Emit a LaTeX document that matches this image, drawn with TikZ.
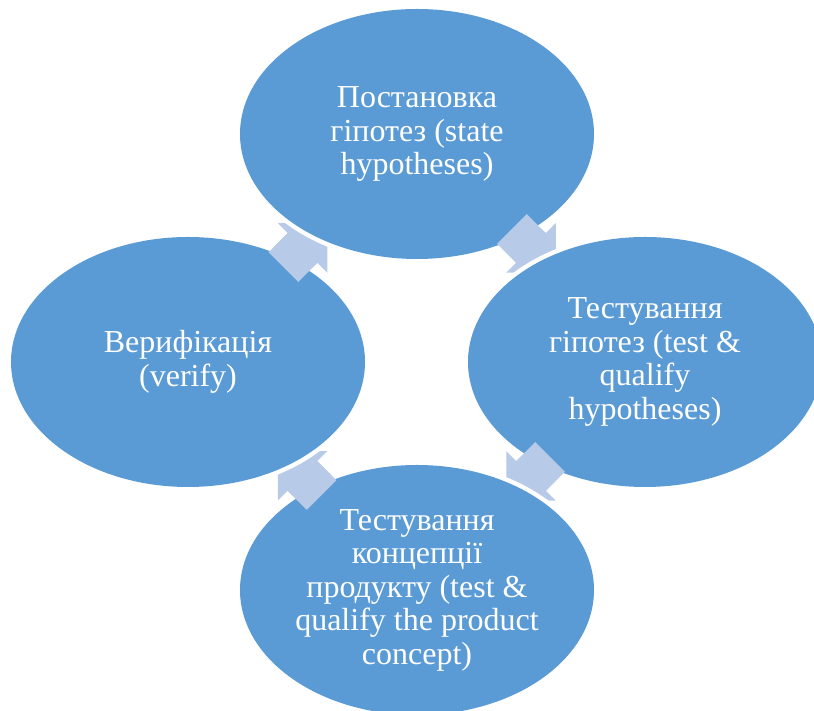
\documentclass[tikz,border=0pt]{standalone}
\usepackage{fontspec}
\setmainfont{Liberation Serif}
\usetikzlibrary{shapes.geometric,calc}
\definecolor{ellblue}{RGB}{91,155,213}
\definecolor{arrblue}{RGB}{183,203,232}
\pgfdeclarelayer{arrows}
\pgfdeclarelayer{rings}
\pgfdeclarelayer{tails}
\pgfsetlayers{arrows,rings,main,tails}
\tikzset{
  phase/.style={ellipse, fill=ellblue, minimum width=354pt, minimum height=250pt,
    inner sep=0pt, text=white, align=center,
    font=\fontsize{32}{33.5}\selectfont},
  cyclearr/.style={fill=arrblue},
}
\newcommand\arrpath{(-27,-21) -- (0,-21) -- (0,-35) -- (35,0) -- (0,35) -- (0,21) -- (-27,21) -- cycle}
\newcommand\tailpath{(-27,-21) rectangle (0,21)}
\newcommand\cyclearrow[3]{% source, target, angle
  \begin{pgfonlayer}{arrows}
    \fill[cyclearr, shift={($(#1)!0.5!(#2)$)}, rotate=#3] \arrpath;
  \end{pgfonlayer}
  \begin{pgfonlayer}{tails}
    \fill[cyclearr, shift={($(#1)!0.5!(#2)$)}, rotate=#3] \tailpath;
  \end{pgfonlayer}}
\newcommand\ring[1]{%
  \begin{pgfonlayer}{rings}
    \fill[white] (#1) ellipse (181.5 and 129.5);
  \end{pgfonlayer}}
\begin{document}
\begin{tikzpicture}[x=1pt,y=1pt]
\useasboundingbox (0,0) rectangle (814,711);
\clip (0,0) rectangle (814,711);
\node[phase] (top) at (417,577) {Постановка\\гіпотез (state\\hypotheses)};
\node[phase] (right) at (645,349) {Тестування\\гіпотез (test \&\\qualify\\hypotheses)};
\node[phase] (bottom) at (417,121) {Тестування\\концепції\\продукту (test \&\\qualify the product\\concept)};
\node[phase] (left) at (188,349) {Верифікація\\(verify)};
\ring{top}\ring{right}\ring{bottom}\ring{left}
\cyclearrow{top}{right}{-45}
\cyclearrow{right}{bottom}{-135}
\cyclearrow{bottom}{left}{135}
\cyclearrow{left}{top}{45}
\end{tikzpicture}
\end{document}
